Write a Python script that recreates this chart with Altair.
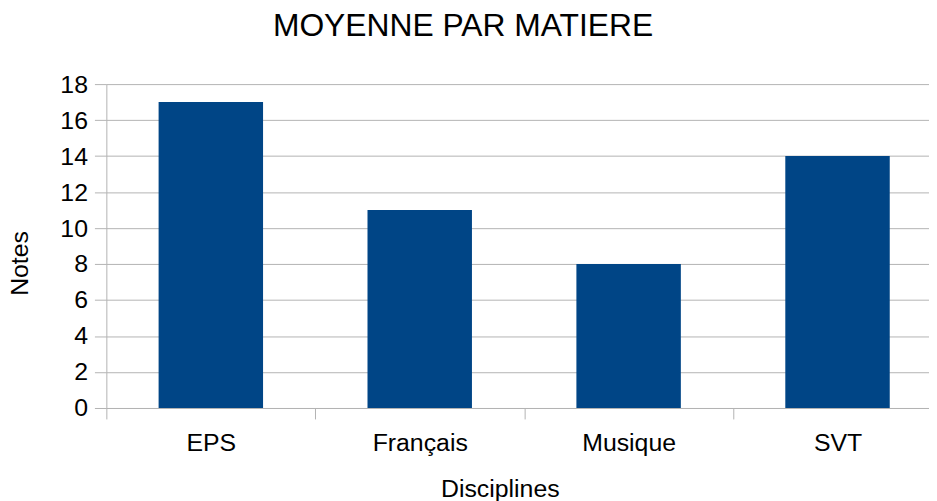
import altair as alt
import pandas as pd

categories = ["EPS", "Français", "Musique", "SVT"]
values = [17, 11, 8, 14]
y_ticks = [0, 2, 4, 6, 8, 10, 12, 14, 16, 18]

df = pd.DataFrame({"Disciplines": categories, "Notes": values})

FONT = "Liberation Sans"
GRID = "#b3b3b3"
PLOT_W = 828
PAD_IN, PAD_OUT = 0.5, 0.219
STEP = PLOT_W / (len(categories) - PAD_IN + 2 * PAD_OUT)

chart = (
    alt.Chart(df)
    .mark_bar(color="#004586")
    .encode(
        x=alt.X(
            "Disciplines:N",
            sort=categories,
            scale=alt.Scale(paddingInner=PAD_IN, paddingOuter=PAD_OUT, align=0.571),
            axis=alt.Axis(
                title="Disciplines",
                labelAngle=0,
                labelFontSize=25,
                labelFont=FONT,
                labelColor="#000000",
                labelBaseline="alphabetic",
                labelPadding=32,
                labelOffset=STEP / 2,
                tickSize=11,
                tickColor=GRID,
                tickOffset=-STEP / 2,
                domainColor=GRID,
                grid=False,
                titleFont=FONT,
                titleFontSize=25,
                titleFontWeight="normal",
                titleColor="#000000",
                titleBaseline="alphabetic",
                titleAnchor="start",
                titleAlign="center",
                titleX=396,
                titleY=89,
            ),
        ),
        y=alt.Y(
            "Notes:Q",
            scale=alt.Scale(domain=[0, 18], nice=False),
            axis=alt.Axis(
                title="Notes",
                values=y_ticks,
                labelFontSize=25,
                labelFont=FONT,
                labelColor="#000000",
                labelPadding=7,
                tickSize=12,
                tickColor=GRID,
                domainColor=GRID,
                gridColor=GRID,
                titleFont=FONT,
                titleFontSize=25,
                titleFontWeight="normal",
                titleColor="#000000",
                titleBaseline="alphabetic",
                titleAlign="center",
                titleAngle=-90,
                titleX=-79,
                titleY=180,
            ),
        ),
    )
    .properties(
        width=PLOT_W,
        height=326,
        title=alt.TitleParams(
            "MOYENNE PAR MATIERE",
            font=FONT,
            fontSize=32,
            fontWeight="normal",
            color="#000000",
            baseline="alphabetic",
            offset=4,
            anchor="middle",
            dx=-55,
        ),
        autosize=alt.AutoSizeParams(type="none"),
        padding={"left": 99, "top": 75, "right": 0, "bottom": 92},
    )
    .configure_view(stroke=None)
)

chart.save("out.html", embed_options={"renderer": "svg", "actions": False})
